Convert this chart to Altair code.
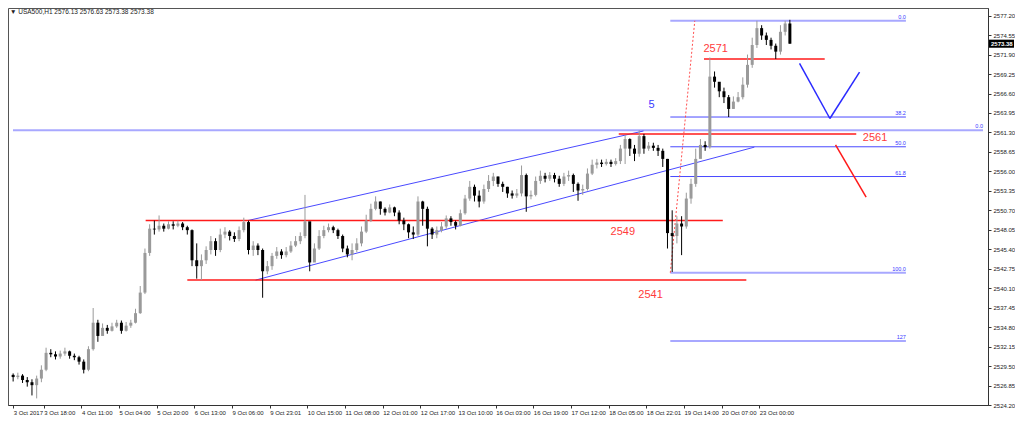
import altair as alt
import pandas as pd

# ---------------- data (H1 candles sampled every 2 hours) ----------------
first_open = 2528.3
closes = [
    2528.0, 2528.2, 2527.6, 2527.3, 2526.9, 2527.8, 2529.0, 2531.3, 2531.1, 2530.8,
    2531.2, 2531.5, 2530.9, 2530.7, 2530.1, 2529.0, 2531.8, 2535.4, 2533.6, 2534.7,
    2534.3, 2534.9, 2535.4, 2534.3, 2535.0, 2535.4, 2536.7, 2539.5, 2544.9, 2548.2,
    2548.1, 2548.6, 2548.2, 2548.8, 2548.6, 2548.9, 2548.4, 2548.0, 2543.9, 2543.1,
    2543.9, 2545.3, 2546.5, 2545.3, 2547.4, 2547.8, 2547.2, 2546.8, 2548.0, 2549.1,
    2545.3, 2545.9, 2545.3, 2542.4, 2543.1, 2544.5, 2545.1, 2544.6, 2545.1, 2545.9,
    2546.5, 2547.2, 2549.2, 2543.6, 2545.5, 2547.2, 2548.0, 2548.4, 2548.0, 2547.2,
    2545.5, 2544.7, 2545.3, 2546.2, 2547.8, 2549.3, 2550.9, 2551.9, 2550.9, 2550.4,
    2551.1, 2550.4, 2549.3, 2548.8, 2547.7, 2547.4, 2551.9, 2550.9, 2548.2, 2547.4,
    2548.0, 2548.5, 2549.6, 2549.1, 2548.6, 2550.3, 2552.3, 2553.9, 2552.7, 2551.9,
    2553.6, 2554.7, 2555.3, 2554.3, 2553.9, 2553.0, 2552.7, 2553.0, 2555.5, 2552.6,
    2552.8, 2554.7, 2555.4, 2555.0, 2555.5, 2555.0, 2554.3, 2555.3, 2555.5, 2554.3,
    2553.4, 2553.6, 2555.7, 2556.9, 2557.2, 2557.0, 2557.3, 2557.0, 2557.4, 2559.1,
    2560.4, 2559.1, 2558.4, 2560.8, 2559.1, 2559.5, 2559.2, 2558.8, 2557.7, 2547.6,
    2547.2, 2548.9, 2548.5, 2552.3, 2554.3, 2557.7, 2559.6, 2559.3, 2568.9, 2568.2,
    2566.9, 2566.1, 2564.5, 2565.5, 2566.1, 2567.8, 2570.5, 2573.2, 2575.5, 2574.5,
    2573.9, 2573.1, 2572.3, 2575.0, 2576.13, 2573.38,
]
highs = [
    2528.5, 2528.6, 2528.4, 2528.0, 2527.7, 2528.2, 2529.6, 2532.0, 2531.8, 2531.5,
    2531.6, 2532.0, 2531.6, 2531.2, 2530.9, 2530.4, 2532.2, 2537.4, 2535.8, 2535.3,
    2535.1, 2535.4, 2535.8, 2535.7, 2535.5, 2535.8, 2537.3, 2540.4, 2545.5, 2548.8,
    2549.3, 2550.0, 2548.9, 2549.2, 2549.2, 2549.3, 2549.1, 2548.6, 2548.1, 2546.2,
    2544.7, 2545.8, 2547.2, 2546.9, 2548.2, 2548.4, 2548.0, 2547.7, 2548.5, 2549.7,
    2549.3, 2546.5, 2546.2, 2545.5, 2543.8, 2544.9, 2545.7, 2545.4, 2545.7, 2546.5,
    2547.2, 2547.7, 2552.8, 2548.9, 2546.2, 2548.0, 2548.6, 2548.9, 2548.6, 2548.2,
    2547.4, 2545.9, 2546.2, 2546.9, 2548.5, 2550.1, 2551.6, 2552.6, 2551.9, 2551.1,
    2551.5, 2551.2, 2550.7, 2549.7, 2548.9, 2548.5, 2552.6, 2552.0, 2551.2, 2548.4,
    2548.5, 2549.1, 2550.0, 2549.9, 2549.3, 2550.8, 2552.8, 2554.7, 2554.2, 2553.4,
    2554.2, 2555.5, 2555.8, 2555.3, 2554.6, 2553.9, 2553.4, 2553.6, 2556.8, 2555.7,
    2553.4, 2555.3, 2556.1, 2555.8, 2555.9, 2555.8, 2555.4, 2555.8, 2556.1, 2555.7,
    2554.5, 2554.2, 2556.4, 2557.6, 2557.7, 2557.6, 2557.7, 2557.6, 2557.8, 2559.6,
    2560.9, 2560.5, 2559.6, 2561.6, 2561.1, 2560.0, 2559.9, 2559.6, 2559.1, 2557.7,
    2550.7, 2549.9, 2549.9, 2553.1, 2555.0, 2559.1, 2560.4, 2560.1, 2571.5, 2569.6,
    2568.0, 2567.4, 2566.4, 2566.2, 2566.8, 2568.8, 2571.9, 2574.2, 2576.5, 2575.9,
    2574.9, 2574.2, 2573.4, 2575.9, 2576.5, 2576.63,
]
lows = [
    2527.4, 2527.7, 2527.2, 2526.7, 2525.5, 2525.1, 2527.3, 2528.8, 2530.7, 2530.4,
    2530.5, 2530.9, 2530.5, 2530.3, 2529.7, 2528.5, 2528.8, 2531.6, 2532.8, 2533.9,
    2533.9, 2534.2, 2534.7, 2533.9, 2534.2, 2534.7, 2535.3, 2536.6, 2539.3, 2544.5,
    2547.4, 2547.8, 2547.8, 2548.1, 2548.1, 2548.4, 2548.0, 2547.4, 2543.1, 2541.4,
    2541.2, 2543.4, 2544.7, 2544.5, 2545.0, 2546.9, 2546.6, 2546.4, 2546.5, 2547.7,
    2544.7, 2544.5, 2544.6, 2538.8, 2542.0, 2542.6, 2544.1, 2544.1, 2544.3, 2544.9,
    2545.7, 2546.1, 2546.9, 2542.4, 2544.2, 2545.3, 2546.9, 2547.7, 2547.6, 2546.8,
    2545.0, 2544.3, 2543.9, 2545.0, 2545.8, 2547.6, 2549.1, 2550.7, 2550.1, 2550.0,
    2550.3, 2549.9, 2548.8, 2548.0, 2546.9, 2546.8, 2547.2, 2548.6, 2545.8, 2546.8,
    2546.9, 2547.7, 2548.2, 2548.6, 2548.1, 2548.5, 2550.1, 2552.0, 2551.9, 2551.1,
    2551.6, 2553.2, 2554.0, 2553.9, 2553.2, 2552.4, 2552.3, 2552.4, 2552.6, 2550.5,
    2552.2, 2552.6, 2554.3, 2554.5, 2554.7, 2554.5, 2553.9, 2554.0, 2554.7, 2553.2,
    2552.0, 2552.8, 2553.4, 2555.5, 2556.4, 2556.6, 2556.8, 2556.6, 2556.8, 2557.0,
    2557.0, 2558.1, 2557.4, 2558.0, 2558.4, 2558.8, 2558.8, 2558.1, 2556.6, 2545.5,
    2542.3, 2546.2, 2544.6, 2548.2, 2551.6, 2553.9, 2558.8, 2558.8, 2559.1, 2567.4,
    2566.1, 2565.3, 2563.4, 2564.5, 2565.4, 2565.8, 2567.4, 2570.1, 2572.8, 2573.9,
    2573.2, 2572.6, 2571.3, 2571.9, 2574.5, 2573.38,
]

# time axis (hour index of each label) and price axis labels
time_labels = ["3 Oct 2017", "3 Oct 18:00", "4 Oct 11:00", "5 Oct 04:00", "5 Oct 20:00",
               "6 Oct 13:00", "9 Oct 06:00", "9 Oct 23:01", "10 Oct 15:00", "11 Oct 08:00",
               "12 Oct 01:00", "12 Oct 17:00", "13 Oct 10:00", "16 Oct 03:00", "16 Oct 19:00",
               "17 Oct 12:00", "18 Oct 05:00", "18 Oct 22:01", "19 Oct 14:00", "20 Oct 07:00",
               "23 Oct 00:00"]
time_pos = [3, 16, 32, 48, 64, 80, 96, 112, 128, 144, 160, 176, 192, 208, 224, 240,
            256, 272, 288, 304, 320]
price_ticks = [2524.20, 2526.85, 2529.50, 2532.15, 2534.80, 2537.45, 2540.10, 2542.75,
               2545.40, 2548.05, 2550.70, 2553.35, 2556.00, 2558.65, 2561.30, 2563.95,
               2566.60, 2569.25, 2571.90, 2574.55, 2577.20]

# drawn objects (hour index, price)
red_x = [59.3, 77.0, 260.3, 296.5, 352.4]
red_x2 = [304.5, 314.5, 361.2, 347.8, 365.4]
red_y = [2549.3, 2541.2, 2561.1, 2571.3, 2559.6]
red_y2 = [2549.3, 2541.2, 2561.1, 2571.3, 2552.5]

chan_x = [102.6, 106.0]
chan_x2 = [270.8, 317.9]
chan_y = [2549.3, 2541.2]
chan_y2 = [2561.5, 2559.3]

v_x = [337.1, 350.0]
v_x2 = [350.0, 362.6]
v_y = [2570.7, 2563.2]
v_y2 = [2563.2, 2569.5]

fib_levels = [2576.5, 2563.4, 2559.35, 2555.3, 2542.2, 2532.9]
fib_names = ["0.0", "38.2", "50.0", "61.8", "100.0", "127"]
fib_strong = [True, False, False, False, True, True]
fib_start, fib_end = 282.2, 382.3
full_level = 2561.6

dot_x, dot_x2 = [282.2], [292.6]
dot_y, dot_y2 = [2542.2], [2576.5]

note_text = ["2571", "2561", "2549", "2541"]
note_x = [301.5, 369.2, 262.0, 273.8]
note_y = [2572.6, 2560.5, 2547.8, 2539.2]

last_price = 2573.38
x_min, x_max = 2.944, 415.05
y_min, y_max = 2524.2, 2578.24

# ---------------- frames ----------------
opens = [first_open] + closes[:-1]
n = len(closes)
candles = pd.DataFrame({
    "x": [2 * k + 1 for k in range(1, n + 1)],
    "open": opens, "close": closes, "high": highs, "low": lows,
})
candles["dir"] = ["up" if c >= o else "down" for o, c in zip(opens, closes)]

FONT = "Liberation Sans"
xs = alt.Scale(domain=[x_min, x_max], nice=False, zero=False)
ys = alt.Scale(domain=[y_min, y_max], nice=False, zero=False)

label_expr = " : ".join(f"datum.value == {p} ? '{l}'" for p, l in zip(time_pos, time_labels)) + " : ''"

x_axis = alt.Axis(values=time_pos, labelExpr=label_expr, orient="bottom", grid=False,
                  tickCount=40, tickSize=3, labelFontSize=6, labelFont=FONT, labelAlign="left",
                  labelBaseline="top", labelPadding=1, labelFlush=False, labelOverlap=False,
                  domainColor="#333", tickColor="#333", labelColor="#222", title=None)
y_axis = alt.Axis(values=price_ticks, format=".2f", orient="right", grid=False, tickCount=40,
                  tickSize=3, labelFontSize=6, labelFont=FONT, labelPadding=2, labelOverlap=False,
                  labelFlush=False, domainColor="#333", tickColor="#333", labelColor="#222",
                  title=None)

color = alt.Color("dir:N", scale=alt.Scale(domain=["up", "down"], range=["#9a9a9a", "#000000"]),
                  legend=None)

wicks = alt.Chart(candles).mark_rule(strokeWidth=1).encode(
    x=alt.X("x:Q", scale=xs, axis=x_axis),
    y=alt.Y("low:Q", scale=ys, axis=y_axis),
    y2="high:Q",
    color=color,
)
bodies = alt.Chart(candles).mark_bar(size=3).encode(
    x="x:Q", y="open:Q", y2="close:Q", color=color,
)


def segs(xa, xb, ya, yb):
    return pd.DataFrame({"x": xa, "x2": xb, "y": ya, "y2": yb})


def seg_layer(df, col, width, dash=None):
    kw = dict(color=col, strokeWidth=width)
    if dash:
        kw["strokeDash"] = dash
    return alt.Chart(df).mark_rule(**kw).encode(x="x:Q", x2="x2:Q", y="y:Q", y2="y2:Q")


fib_df = pd.DataFrame({"y": fib_levels, "name": fib_names, "strong": fib_strong})
fib_df["x"] = fib_start
fib_df["x2"] = fib_end

fib_light = alt.Chart(fib_df[fib_df.strong]).mark_rule(color="#a8a8ff", strokeWidth=2).encode(
    x="x:Q", x2="x2:Q", y="y:Q")
fib_dark = alt.Chart(fib_df[~fib_df.strong]).mark_rule(color="#4a4aff", strokeWidth=1).encode(
    x="x:Q", x2="x2:Q", y="y:Q")
fib_text = alt.Chart(fib_df).mark_text(align="right", baseline="bottom", dy=-1, fontSize=5.5,
                                       font=FONT, color="#3a3aff").encode(
    x="x2:Q", y="y:Q", text="name:N")

full_df = pd.DataFrame({"x": [x_min], "x2": [x_max], "y": [full_level], "name": ["0.0"]})
full_line = alt.Chart(full_df).mark_rule(color="#a8a8ff", strokeWidth=2).encode(
    x="x:Q", x2="x2:Q", y="y:Q")
full_text = alt.Chart(full_df).mark_text(align="right", baseline="bottom", dy=-1, fontSize=5.5,
                                         font=FONT, color="#3a3aff").encode(
    x="x2:Q", y="y:Q", text="name:N")

red_lines = seg_layer(segs(red_x, red_x2, red_y, red_y2), "#ff1a1a", 1.5)
chan_lines = seg_layer(segs(chan_x, chan_x2, chan_y, chan_y2), "#4a4aff", 1)
v_lines = seg_layer(segs(v_x, v_x2, v_y, v_y2), "#2a2aff", 1.5)
dot_line = seg_layer(segs(dot_x, dot_x2, dot_y, dot_y2), "#ff4d4d", 1, dash=[2, 2])

notes_df = pd.DataFrame({"x": note_x, "y": note_y, "t": note_text})
notes = alt.Chart(notes_df).mark_text(fontSize=11, font=FONT, color="#ff3b3b").encode(
    x="x:Q", y="y:Q", text="t:N")
five = alt.Chart(pd.DataFrame({"x": [274.2], "y": [2565.0], "t": ["5"]})).mark_text(
    fontSize=11, font=FONT, color="#3a3aff").encode(x="x:Q", y="y:Q", text="t:N")

tag_df = pd.DataFrame({"y": [last_price - 0.55], "y2": [last_price + 0.55],
                       "p": [last_price], "t": [f"{last_price:.2f}"]})
tag_box = alt.Chart(tag_df).mark_rect(color="#000000").encode(
    x=alt.value(981), x2=alt.value(1006), y="y:Q", y2="y2:Q")
tag_text = alt.Chart(tag_df).mark_text(align="left", fontSize=6, font=FONT, fontWeight="bold",
                                       color="#ffffff").encode(
    x=alt.value(983), y="p:Q", text="t:N")

head_df = pd.DataFrame({"t": ["\u25bc USA500,H1  2576.13 2576.63 2573.38 2573.38"]})
head = alt.Chart(head_df).mark_text(align="left", baseline="top", fontSize=6.5, font=FONT,
                                    color="#222").encode(
    x=alt.value(2), y=alt.value(1), text="t:N")

chart = alt.layer(
    full_line, fib_light, fib_dark, chan_lines, red_lines, dot_line, v_lines,
    wicks, bodies, fib_text, full_text, notes, five, tag_box, tag_text, head,
).properties(
    width=980, height=397, padding=0, background="#ffffff",
).configure_view(stroke="#555555", strokeWidth=1)

chart.save("out.html", embed_options={"renderer": "svg", "actions": False})
